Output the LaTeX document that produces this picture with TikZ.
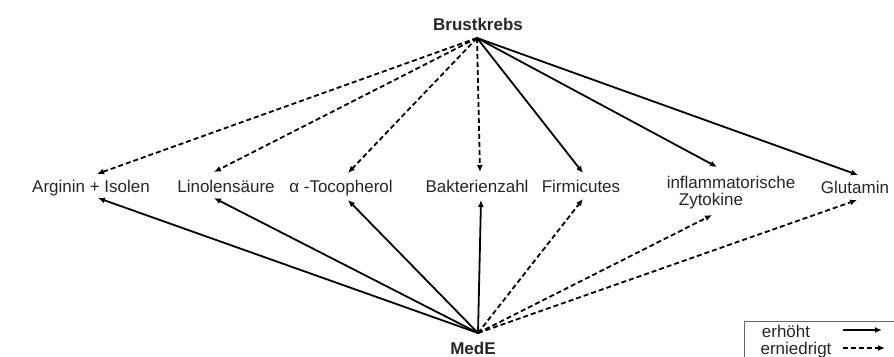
\documentclass[tikz,border=0pt]{standalone}
\usepackage{fontspec}
\setmainfont{Liberation Sans}
\usetikzlibrary{arrows.meta}
\begin{document}
\begin{tikzpicture}[x=1pt,y=-1pt,
  font=\fontsize{17}{20}\selectfont,
  inc/.style={line width=1.8pt,-{Latex[length=7pt,width=6pt]}},
  dec/.style={inc, dash pattern=on 5pt off 3pt},
  lbl/.style={anchor=base, inner sep=0pt, text=black!85},
  hd/.style={lbl, font=\fontsize{17}{20}\selectfont\bfseries}]
\useasboundingbox (0,0) rectangle (894,356);
\clip (0,0) rectangle (894,356);
% heads
\node[hd] (bk) at (478,30) {Brustkrebs};
\node[hd] (med) at (473,354) {MedE};
\coordinate (bkA) at (477,38);
\coordinate (medA) at (478,333);
% targets
\node[lbl] (arg) at (91,192) {Arginin + Isolen};
\node[lbl] (lin) at (226,192) {Linolensäure};
\node[lbl] (toc) at (341,192) {α -Tocopherol};
\node[lbl] (bak) at (477,192) {Bakterienzahl};
\node[lbl] (fir) at (581,192) {Firmicutes};
\node[lbl] (inf) at (731,188) {inflammatorische};
\node[lbl] (zyt) at (711,205) {Zytokine};
\node[lbl] (glu) at (855,193) {Glutamin};
% arrow tip points
\coordinate (argT) at (97,174);
\coordinate (linT) at (214,172);
\coordinate (tocT) at (348,173);
\coordinate (bakT) at (480,172);
\coordinate (firT) at (583,173);
\coordinate (infT) at (717,167);
\coordinate (gluT) at (858,175);
\coordinate (argB) at (98,198);
\coordinate (linB) at (214,198);
\coordinate (tocB) at (348,200);
\coordinate (bakB) at (481,200);
\coordinate (firB) at (583,199);
\coordinate (infB) at (712,215);
\coordinate (gluB) at (857,200);
% Brustkrebs arrows
\draw[dec] (bkA) -- (argT);
\draw[dec] (bkA) -- (linT);
\draw[dec] (bkA) -- (tocT);
\draw[dec] (bkA) -- (bakT);
\draw[inc] (bkA) -- (firT);
\draw[inc] (bkA) -- (infT);
\draw[inc] (bkA) -- (gluT);
% MedE arrows
\draw[inc] (medA) -- (argB);
\draw[inc] (medA) -- (linB);
\draw[inc] (medA) -- (tocB);
\draw[inc] (medA) -- (bakB);
\draw[dec] (medA) -- (firB);
\draw[dec] (medA) -- (infB);
\draw[dec] (medA) -- (gluB);
% legend
\draw[line width=0.8pt, draw=black!60] (744,321) rectangle (900,380);
\node[lbl] (le1) at (786,337) {erhöht};
\node[lbl] (le2) at (796,354) {erniedrigt};
\coordinate (l1a) at (843,330);
\coordinate (l1b) at (882,330);
\coordinate (l2a) at (843,348);
\coordinate (l2b) at (885,348);
\draw[inc] (l1a) -- (l1b);
\draw[dec] (l2a) -- (l2b);
\end{tikzpicture}
\end{document}
